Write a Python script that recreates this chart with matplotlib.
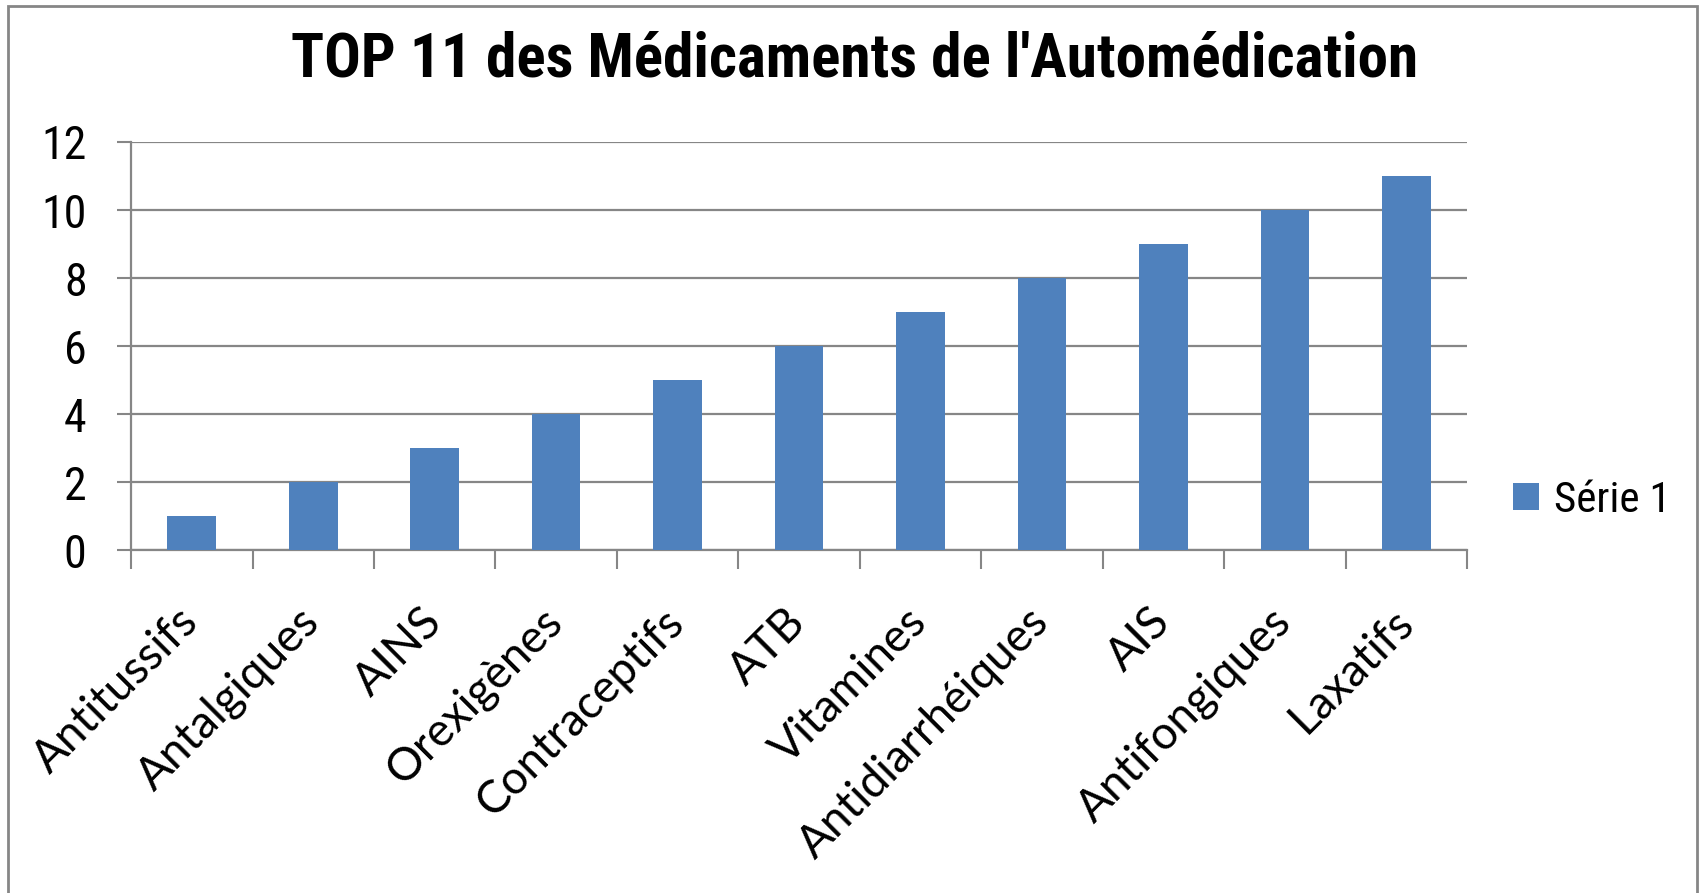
import matplotlib.pyplot as plt
from matplotlib.patches import Rectangle
from matplotlib import font_manager

categories = ['Antitussifs', 'Antalgiques', 'AINS', 'Orexigènes', 'Contraceptifs', 'ATB',
              'Vitamines', 'Antidiarrhéiques', 'AIS', 'Antifongiques', 'Laxatifs']
values = [1, 2, 3, 4, 5, 6, 7, 8, 9, 10, 11]
yticks = [0, 2, 4, 6, 8, 10, 12]

names = {f.name for f in font_manager.fontManager.ttflist}
narrow = 'Liberation Sans'
for cand in ['Liberation Sans Narrow', 'Arial Narrow', 'Roboto Condensed']:
    if cand in names:
        narrow = cand
        break
condensed = narrow != 'Liberation Sans'

fig = plt.figure(figsize=(17.02, 8.93), dpi=100)
ax = fig.add_axes([0.077, 0.384, 0.785, 0.457])

grey = '#868686'
x = list(range(len(categories)))
ax.bar(x, values, width=0.4, color='#4F81BD', label='Série 1', zorder=3)

ax.set_xlim(-0.5, len(categories) - 0.5)
ax.set_ylim(0, 12)
ax.set_yticks(yticks)
ax.set_yticklabels([str(v) for v in yticks], fontsize=33 if condensed else 29, family=narrow)
ax.yaxis.grid(True, color=grey, linewidth=1.6, zorder=0)

ax.set_xticks([i - 0.5 for i in range(len(categories) + 1)])
ax.set_xticklabels([])
ax.set_xticks(x, minor=True)
ax.set_xticklabels(categories, minor=True, rotation=45, ha='right', va='center',
                   rotation_mode='anchor', fontsize=33, family='Lato')
ax.tick_params(axis='x', which='major', length=14, width=1.5, color=grey)
ax.tick_params(axis='x', which='minor', length=0, pad=47)
ax.tick_params(axis='y', length=10, width=1.5, color=grey, pad=22)

for side in ['top', 'right']:
    ax.spines[side].set_visible(False)
for side in ['left', 'bottom']:
    ax.spines[side].set_color(grey)
    ax.spines[side].set_linewidth(1.6)

fig.text(0.502, 0.933, "TOP 11 des Médicaments de l'Automédication", ha='center', va='center',
         fontsize=44 if condensed else 38, fontweight='bold', family=narrow)

leg = fig.legend(loc='center left', bbox_to_anchor=(0.889, 0.44), frameon=False,
                 prop={'family': narrow, 'size': 31 if condensed else 27},
                 handlelength=0.6, handleheight=0.6, handletextpad=0.35,
                 borderpad=0, borderaxespad=0)

fig.patches.append(Rectangle((8 / 1702, -0.05), (1697 - 8) / 1702, 1 - 6 / 893 + 0.05,
                             transform=fig.transFigure, fill=False, edgecolor=grey,
                             linewidth=2))

fig.savefig('out.png', dpi=100)
